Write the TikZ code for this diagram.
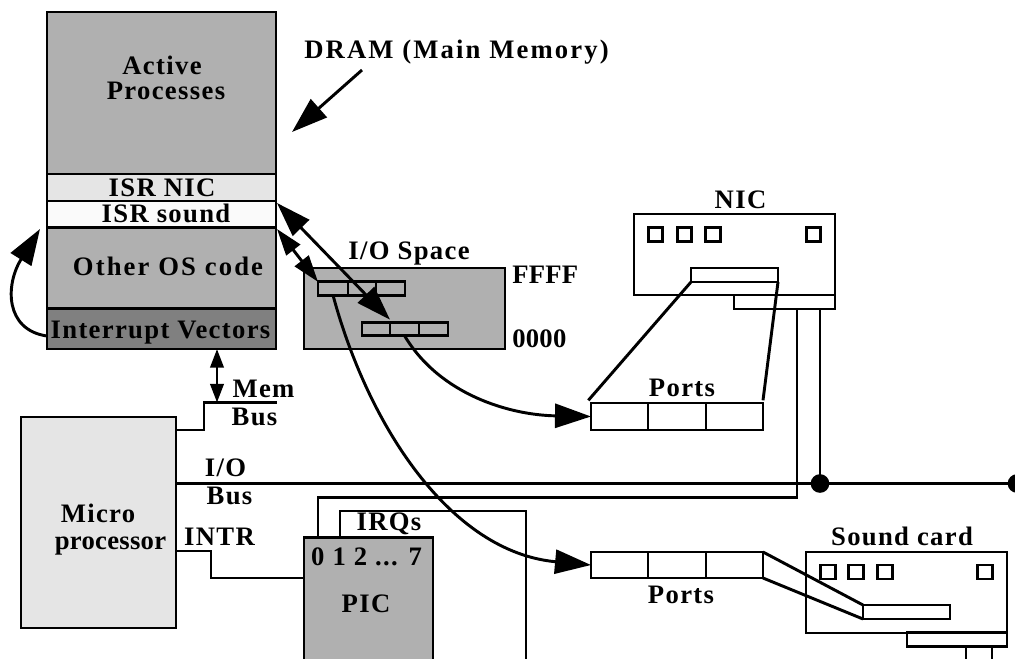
\documentclass[tikz,border=0pt]{standalone}
\usepackage{fontspec}
\setmainfont[LetterSpace=5]{Liberation Serif}
\usetikzlibrary{arrows.meta}

\definecolor{midgray}{gray}{0.69}
\definecolor{lightgray}{gray}{0.90}
\definecolor{palegray}{gray}{0.98}
\definecolor{darkgray}{gray}{0.50}

\tikzset{
    wire/.style={line width=2.2pt},
    boxnode/.style={draw, line width=2.2pt, inner sep=0pt, outer sep=0pt},
    label/.style={inner sep=0pt, anchor=base, font=\bfseries\fontsize{20}{22}\selectfont},
    widelabel/.style={label, font=\bfseries\fontsize{20}{22}\selectfont\addfontfeatures{LetterSpace=8}},
    narrowlabel/.style={label, font=\bfseries\fontsize{20}{22}\selectfont\addfontfeatures{LetterSpace=1}},
    tinyled/.style={boxnode, minimum width=11pt, minimum height=10.5pt},
    bigtip/.style={-{Triangle[length=27pt,width=18pt]}},
    longtips/.style={{Triangle[length=26pt,width=17pt]}-{Triangle[length=26pt,width=17pt]}},
    shorttips/.style={{Triangle[length=20pt,width=13pt]}-{Triangle[length=20pt,width=13pt]}},
    bustips/.style={{Triangle[length=14pt,width=10pt]}-{Triangle[length=14pt,width=10pt]}}
}

\begin{document}
\begin{tikzpicture}[x=0.75pt, y=-0.75pt]

    \useasboundingbox (0, 0) rectangle (1015, 658);

    % Memory stack
    \node[boxnode, fill=midgray, minimum width=171.75pt, minimum height=121.5pt] (active) at (161.5, 93) {};
    \node[boxnode, fill=lightgray, minimum width=171.75pt, minimum height=20.25pt] (isrnic) at (161.5, 187.5) {};
    \node[boxnode, fill=palegray, minimum width=171.75pt, minimum height=19.5pt] (isrsound) at (161.5, 214) {};
    \node[boxnode, fill=midgray, minimum width=171.75pt, minimum height=60.75pt] (otheros) at (161.5, 268) {};
    \node[boxnode, fill=darkgray, minimum width=171.75pt, minimum height=30pt] (vectors) at (161.5, 329) {};

    \node[label] (activetxt) at (162, 74) {Active};
    \node[label] (processestxt) at (166, 99) {Processes};
    \node[label] (isrnictxt) at (162, 196) {ISR NIC};
    \node[label] (isrsoundtxt) at (166, 222) {ISR sound};
    \node[widelabel] (otherostxt) at (168, 275) {Other OS code};
    \node[label] (vectorstxt) at (160.5, 338) {Interrupt Vectors};
    \node[widelabel, anchor=base west] (dramtxt) at (304, 58) {DRAM (Main Memory)};

    % DRAM pointer
    \coordinate (dramfrom) at (362, 70);
    \coordinate (dramto) at (292, 132);
    \draw[wire, bigtip] (dramfrom) -- (dramto);

    % I/O space with two port groups
    \node[boxnode, fill=midgray, minimum width=150.75pt, minimum height=60.75pt] (iospace) at (404.5, 308.5) {};
    \node[label] (iospacetxt) at (409, 259) {I/O Space};
    \node[narrowlabel, anchor=base west] (fffftxt) at (512, 283) {FFFF};
    \node[narrowlabel, anchor=base west] (zerotxt) at (512, 347) {0000};
    \foreach \i/\x/\w in {1/333/30, 2/362/28, 3/390.5/29} {
        \node[boxnode, minimum width=\w*0.75pt, minimum height=10pt] (iosnd\i) at (\x, 288.5) {};
    }
    \foreach \i/\x/\w in {1/376/28, 2/404.5/29, 3/433.5/29} {
        \node[boxnode, minimum width=\w*0.75pt, minimum height=10pt] (ionic\i) at (\x, 329) {};
    }

    % Microprocessor and its lines
    \node[boxnode, fill=lightgray, minimum width=116.25pt, minimum height=158.25pt] (micro) at (98.5, 522.5) {};
    \node[label] (microtxt) at (98, 522) {Micro};
    \node[narrowlabel] (processortxt) at (110.5, 549) {processor};
    \node[label] (memtxt) at (263.5, 397) {Mem};
    \node[label] (memlowtxt) at (254.5, 425) {Bus};
    \node[label] (iotxt) at (225.5, 476) {I/O};
    \node[label] (iolowtxt) at (229.5, 504) {Bus};
    \node[label] (intrtxt) at (219.5, 545) {INTR};

    \coordinate (membusend) at (277, 402.5);
    \coordinate (membusout) at (176, 430);
    \coordinate (membustap) at (217, 402.5);
    \draw[wire] (membusout) -- (204, 430) -- (204, 402.5) -- (membusend);
    \draw[wire, bustips] (membustap) -- (vectors.south -| membustap);

    % PIC
    \node[boxnode, fill=midgray, minimum width=96.75pt, minimum height=105pt] (pic) at (368.5, 607.5) {};
    \node[label] (picnumtxt) at (366.5, 565) {0 1 2 ... 7};
    \node[label] (pictxt) at (366, 612) {PIC};
    \node[label] (irqtxt) at (389, 530) {IRQs};

    \coordinate (introut) at (176, 551);
    \draw[wire] (introut) -- (211, 551) -- (211, 578) -- (pic.west |- 0, 578);

    % NIC
    \node[boxnode, minimum width=150.75pt, minimum height=60.75pt] (nic) at (734.5, 254.5) {};
    \node[label] (nictxt) at (740.5, 208) {NIC};
    \foreach \i/\x in {1/655.5, 2/684.5, 3/713, 4/813.5} {
        \node[tinyled] (nicled\i) at (\x, 234.5) {};
    }
    \node[boxnode, minimum width=65.25pt, minimum height=10.5pt] (nicslot) at (734.5, 275) {};
    \node[boxnode, minimum width=75.75pt, minimum height=10.5pt] (nictab) at (784.5, 302) {};

    % Sound card
    \node[boxnode, minimum width=150.75pt, minimum height=60.75pt] (sound) at (906.5, 592.5) {};
    \node[label] (soundtxt) at (902, 545) {Sound card};
    \foreach \i/\x in {1/828, 2/856, 3/885, 4/985} {
        \node[tinyled] (soundled\i) at (\x, 572) {};
    }
    \node[boxnode, minimum width=65.25pt, minimum height=10.5pt] (soundslot) at (906.5, 612) {};
    \node[boxnode, minimum width=75pt, minimum height=10pt] (soundtab) at (957, 639.5) {};

    % Port registers
    \foreach \i/\x/\w in {1/619.5/57, 2/677/58, 3/734.5/57} {
        \node[boxnode, minimum width=\w*0.75pt, minimum height=20.25pt] (nicport\i) at (\x, 416.5) {};
        \node[boxnode, minimum width=\w*0.75pt, minimum height=19.5pt] (sndport\i) at (\x, 565) {};
    }
    \node[label] (nicporttxt) at (682, 396) {Ports};
    \node[label] (sndporttxt) at (681, 603) {Ports};

    % Slot to port fans
    \draw[wire] (nicslot.south west) -- ([xshift=-2pt, yshift=2pt]nicport1.north west);
    \draw[wire] (nicslot.south east) -- ([yshift=2pt]nicport3.north east);
    \draw[wire] (sndport3.north east) -- (soundslot.north west);
    \draw[wire] (sndport3.south east) -- (soundslot.south west);

    % I/O bus
    \coordinate (iobusout) at (176, 483.5);
    \coordinate (iobusend) at (1017, 483.5);
    \coordinate (nicjoin) at (820, 483.5);
    \coordinate (niccable) at (820, 309);
    \draw[wire] (iobusout) -- (iobusend);
    \draw[wire] (niccable) -- (nicjoin);
    \node[circle, fill, inner sep=0pt, minimum size=14pt] (nicdot) at (nicjoin) {};
    \node[circle, fill, inner sep=0pt, minimum size=14pt] (enddot) at (iobusend) {};

    % IRQ lines
    \coordinate (irqzero) at (318, 537);
    \coordinate (irqzerotop) at (797, 309);
    \coordinate (irqone) at (340, 537);
    \coordinate (irqoneend) at (526, 670);
    \draw[wire] (irqzero) -- (318, 497.5) -- (797, 497.5) -- (irqzerotop);
    \draw[wire] (irqone) -- (340, 511) -- (526, 511) -- (irqoneend);

    % Sound card cables running off the page
    \coordinate (cableone) at (966, 670);
    \coordinate (cabletwo) at (992, 670);
    \draw[wire] (soundtab.south -| cableone) -- (cableone);
    \draw[wire] (soundtab.south -| cabletwo) -- (cabletwo);

    % Arrows between memory, I/O space and ports
    \coordinate (isrsoundcorner) at (277, 203);
    \coordinate (otheroscorner) at (277, 229);
    \coordinate (vectorleft) at (47, 336);
    \coordinate (vectortip) at (40, 229);
    \draw[wire, longtips] (isrsoundcorner) -- ([yshift=2pt]ionic2.north west);
    \draw[wire, shorttips] (otheroscorner) -- (iosnd1.north west);
    \draw[wire, bigtip] (vectorleft) .. controls (5, 330) and (5, 285) .. (vectortip);
    \draw[wire, bigtip] (iosnd1.south) .. controls (368, 425) and (450, 552) .. (sndport1.west);
    \draw[wire, bigtip] (ionic2.south) .. controls (440, 395) and (510, 415) .. (nicport1.west);

\end{tikzpicture}
\end{document}
